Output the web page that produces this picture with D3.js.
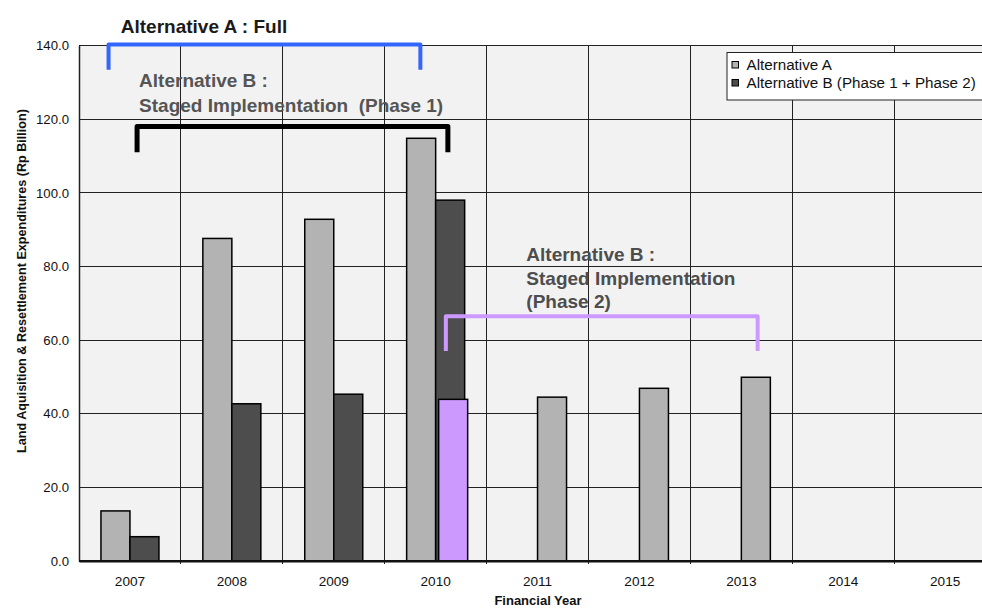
<!DOCTYPE html>
<html>
<head>
<meta charset="utf-8">
<script src="https://cdn.jsdelivr.net/npm/d3@7/dist/d3.min.js"></script>
<style>
  html, body { margin: 0; padding: 0; background: #fff; }
  svg { display: block; font-family: "Liberation Sans", Arial, sans-serif; }
</style>
</head>
<body>
<svg id="chart" width="982" height="610"></svg>
<script>
// ---------- data ----------
const years = ["2007", "2008", "2009", "2010", "2011", "2012", "2013", "2014", "2015"];
const alternativeA = [13.6, 87.6, 92.8, 114.8, 44.5, 46.9, 49.9, null, null];
const alternativeB = [6.6, 42.7, 45.3, 98.0, null, null, null, null, null];
const alternativeBPhase2 = [null, null, null, 43.9, null, null, null, null, null];
const yTicks = [0, 20, 40, 60, 80, 100, 120, 140];
const legendLabels = ["Alternative A", "Alternative B (Phase 1 + Phase 2)"];
const yTitle = "Land Aquisition & Resettlement Expenditures (Rp Billion)";
const xTitle = "Financial Year";

// annotation brackets in data units (year position, value)
const bracketNames = ["Alternative A : Full", "Alternative B Phase 1", "Alternative B Phase 2"];
const bracketFrom = [2006.79, 2007.07, 2010.10];
const bracketTo = [2009.85, 2010.12, 2013.16];
const bracketTop = [140.3, 118.0, 66.5];
const bracketBottom = [133.4, 111.0, 57.0];

(function () {
// ---------- layout ----------
const svg = d3.select("#chart");
const pLeft = 79, pTop = 45.5, pBottom = 561, bandW = 101.9;
const pRight = pLeft + years.length * bandW;
const groupW = 58;

const x = d3.scaleBand().domain(years).range([pLeft, pRight]).padding(0);
const sub = d3.scaleBand().domain(["first", "second"]).range([0, groupW]);
const y = d3.scaleLinear().domain([0, 140]).range([pBottom, pTop]);
const xYear = d3.scaleLinear().domain([2006.5, 2006.5 + years.length]).range([pLeft, pRight]);

const colA = "#b3b3b3", colB = "#4d4d4d", colP2 = "#cc99ff";

// plot background
svg.append("rect").attr("x", pLeft).attr("y", pTop).attr("width", pRight - pLeft).attr("height", pBottom - pTop)
  .attr("fill", "#f2f2f2");

// horizontal gridlines
svg.append("g").selectAll("line").data(yTicks.filter(t => t > 0)).join("line")
  .attr("x1", pLeft).attr("x2", pRight)
  .attr("y1", d => y(d)).attr("y2", d => y(d))
  .attr("stroke", "#222").attr("stroke-width", 1).attr("shape-rendering", "crispEdges");

// vertical gridlines at category boundaries
svg.append("g").selectAll("line").data(years.slice(1)).join("line")
  .attr("x1", d => x(d)).attr("x2", d => x(d))
  .attr("y1", pTop).attr("y2", pBottom + 3)
  .attr("stroke", "#222").attr("stroke-width", 1).attr("shape-rendering", "crispEdges");

// y axis
const yAxis = d3.axisLeft(y).tickValues(yTicks).tickFormat(d3.format(".1f")).tickSize(0).tickPadding(10);
const gy = svg.append("g").attr("transform", `translate(${pLeft},0)`).call(yAxis);
gy.select(".domain").attr("stroke", "#222").attr("stroke-width", 1.5);
gy.selectAll("text").attr("font-size", 13.2).attr("fill", "#111").attr("font-family", "Liberation Sans, Arial, sans-serif");

// x axis
const xAxis = d3.axisBottom(x).tickSize(0).tickPadding(15);
const gx = svg.append("g").attr("transform", `translate(0,${pBottom})`).call(xAxis);
gx.select(".domain").attr("stroke", "#111").attr("stroke-width", 2);
gx.selectAll("text").attr("font-size", 13.6).attr("fill", "#111").attr("font-family", "Liberation Sans, Arial, sans-serif");

// bars
const offset = (bandW - groupW) / 2;
const barsA = years.map((yr, i) => ({ yr, v: alternativeA[i], slot: alternativeB[i] != null ? "first" : "second" }))
  .filter(d => d.v != null);
const barsB = years.map((yr, i) => ({ yr, v: alternativeB[i] })).filter(d => d.v != null);
const barsP2 = years.map((yr, i) => ({ yr, v: alternativeBPhase2[i] })).filter(d => d.v != null);

svg.append("g").selectAll("rect").data(barsA).join("rect")
  .attr("x", d => x(d.yr) + offset + sub(d.slot)).attr("width", sub.bandwidth())
  .attr("y", d => y(d.v)).attr("height", d => y(0) - y(d.v))
  .attr("fill", colA).attr("stroke", "#000").attr("stroke-width", 1.5);

svg.append("g").selectAll("rect").data(barsB).join("rect")
  .attr("x", d => x(d.yr) + offset + sub("second")).attr("width", sub.bandwidth())
  .attr("y", d => y(d.v)).attr("height", d => y(0) - y(d.v))
  .attr("fill", colB).attr("stroke", "#000").attr("stroke-width", 1.5);

svg.append("g").selectAll("rect").data(barsP2).join("rect")
  .attr("x", d => x(d.yr) + offset + sub("second") + 3).attr("width", sub.bandwidth())
  .attr("y", d => y(d.v)).attr("height", d => y(0) - y(d.v))
  .attr("fill", colP2).attr("stroke", "#000").attr("stroke-width", 1.5);

// redraw bottom axis line over bars
svg.append("line").attr("x1", pLeft).attr("x2", pRight).attr("y1", pBottom).attr("y2", pBottom)
  .attr("stroke", "#111").attr("stroke-width", 2);

// brackets
const bracketColors = ["#3366ff", "#000000", "#cc99ff"];
const bracketWidths = [4, 5, 4];
const brackets = bracketNames.map((n, i) => ({
  n, x1: xYear(bracketFrom[i]), x2: xYear(bracketTo[i]), yt: y(bracketTop[i]), yb: y(bracketBottom[i]),
  c: bracketColors[i], w: bracketWidths[i]
}));
svg.append("g").selectAll("path").data(brackets).join("path")
  .attr("d", d => `M${d.x1},${d.yb}V${d.yt}H${d.x2}V${d.yb}`)
  .attr("fill", "none").attr("stroke", d => d.c).attr("stroke-width", d => d.w)
  .attr("stroke-linejoin", "round");

// annotation texts
function addText(lines, yr, vals, size, color) {
  lines.forEach((t, i) => {
    svg.append("text").attr("x", xYear(yr)).attr("y", y(vals[i]))
      .attr("font-size", size).attr("font-weight", "bold").attr("fill", color)
      .style("white-space", "pre").text(t);
  });
}
addText(["Alternative A : Full"], 2006.91, [143.5], 19, "#1a1a1a");
addText(["Alternative B :", "Staged Implementation  (Phase 1)"], 2007.09, [128.7, 121.9], 19, "#555555");
addText(["Alternative B :", "Staged Implementation", "(Phase 2)"], 2010.89, [81.4, 74.9, 68.6], 19, "#4d4d4d");

// legend
const lg = svg.append("g");
lg.append("rect").attr("x", 727).attr("y", 52.5).attr("width", 270).attr("height", 47.5)
  .attr("fill", "#fff").attr("stroke", "#222").attr("stroke-width", 1);
const legendColors = [colA, colB];
legendLabels.forEach((t, i) => {
  lg.append("rect").attr("x", 732).attr("y", 61.5 + i * 18).attr("width", 6.5).attr("height", 6.5)
    .attr("fill", legendColors[i]).attr("stroke", "#000").attr("stroke-width", 1);
  lg.append("text").attr("x", 746.5).attr("y", 70 + i * 18).attr("font-size", 15.2).attr("fill", "#111").text(t);
});

// axis titles
svg.append("text").attr("transform", `translate(26,281) rotate(-90)`).attr("text-anchor", "middle")
  .attr("font-size", 12.6).attr("font-weight", "bold").attr("fill", "#111").text(yTitle);
svg.append("text").attr("x", 538).attr("y", 605).attr("text-anchor", "middle")
  .attr("font-size", 13).attr("font-weight", "bold").attr("fill", "#111").text(xTitle);
})();
</script>
</body>
</html>
